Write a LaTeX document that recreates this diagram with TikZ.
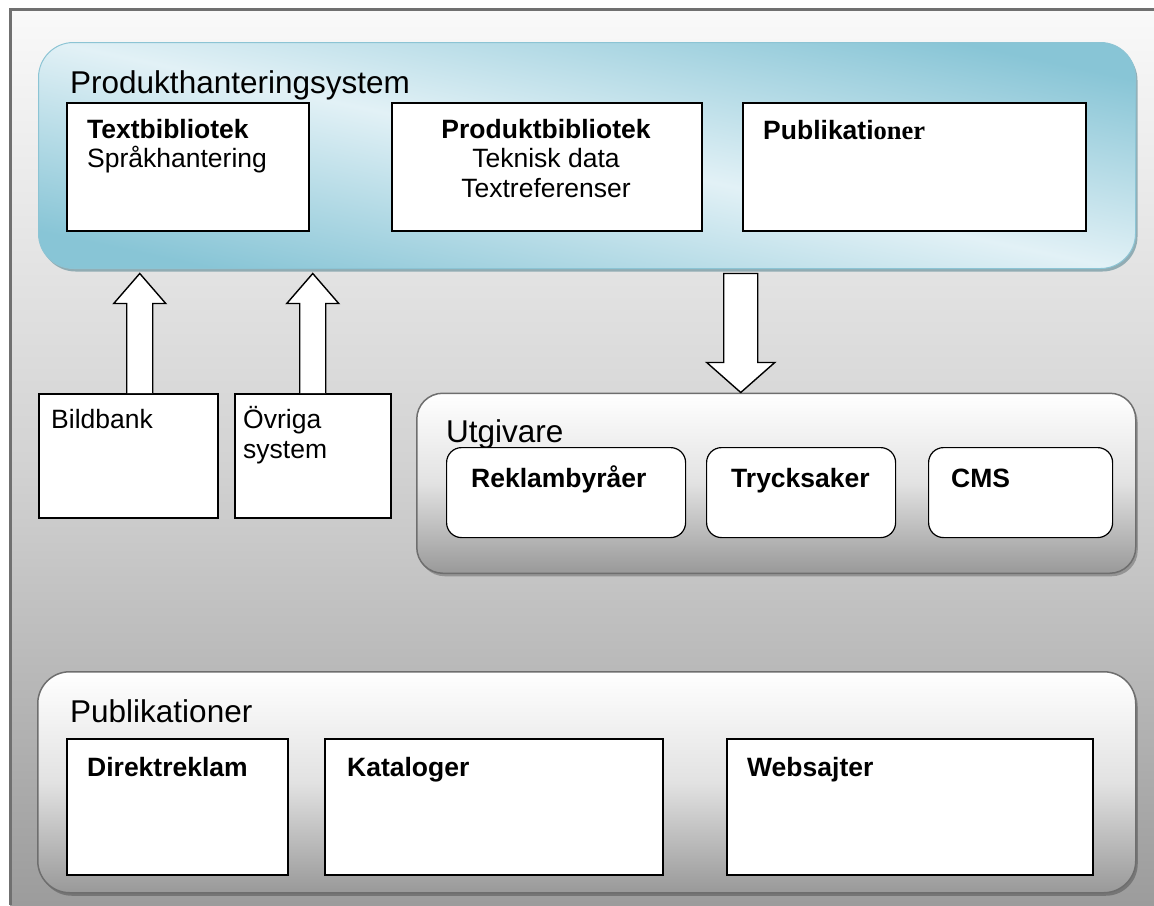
\documentclass[tikz,border=0pt]{standalone}
\usepackage{fontspec}
\setmainfont{Liberation Sans}
\newfontfamily\tnr{Liberation Serif}
\usetikzlibrary{calc,shadows}
\definecolor{bgtop}{HTML}{F9F9F9}
\definecolor{bgmid}{HTML}{D3D3D3}
\definecolor{bgbot}{HTML}{9C9C9C}
\definecolor{framecol}{HTML}{707070}
\definecolor{bluesat}{HTML}{88C5D6}
\definecolor{bluelight}{HTML}{E2F1F6}
\definecolor{blueedge}{HTML}{8CC4D4}
\definecolor{blueshadow}{HTML}{7D9FA8}
\definecolor{grymid}{HTML}{E2E2E2}
\definecolor{grybot}{HTML}{999999}
\definecolor{gryedge}{HTML}{6E6E6E}
\begin{document}
\begin{tikzpicture}[x=1pt,y=-1pt,
  titletxt/.style={font=\fontsize{31.5}{36}\selectfont, inner sep=0pt, anchor=base west},
  boxtxt/.style={font=\fontsize{26.5}{30}\selectfont, inner sep=0pt, anchor=base west},
  bluecont/.style={rectangle, anchor=north west, rounded corners=35pt, draw=blueedge, line width=1pt,
    top color=bluesat, bottom color=bluesat, middle color=bluelight, shading angle=-12,
    drop shadow={shadow xshift=2pt, shadow yshift=-3pt, fill=blueshadow, opacity=0.8}},
  grycont/.style={rectangle, anchor=north west, draw=gryedge, line width=1.5pt,
    top color=white, bottom color=grybot, middle color=grymid,
    drop shadow={shadow xshift=2pt, shadow yshift=-3pt, fill=black, opacity=0.25}},
  sqbox/.style={rectangle, anchor=north west, draw=black, fill=white, line width=1.5pt, inner sep=0pt},
  rbox/.style={sqbox, rounded corners=15pt, line width=1.2pt},
  blk/.style={draw=black, fill=white, line width=1.4pt, line join=miter}
]
\useasboundingbox (0,0) rectangle (1154,905);
\fill[white] (0,0) rectangle (1154,905);
% background
\shade[top color=bgtop, bottom color=bgbot, middle color=bgmid] (10,9) rectangle (1154,905);
\draw[framecol, line width=3pt] (10,905) -- (10,9) -- (1154,9);

% top container
\node[bluecont, minimum width=1097pt, minimum height=226pt] (pts) at (38,42) {};
\node[titletxt] (pts-t) at (70,93) {Produkthanteringsystem};

\node[sqbox, minimum width=242pt, minimum height=128pt] (tb) at (66,102) {};
\node[boxtxt] (tb-t1) at (87,138) {\bfseries Textbibliotek};
\node[boxtxt] (tb-t2) at (87,167) {Språkhantering};

\node[sqbox, minimum width=310pt, minimum height=128pt] (pb) at (391,102) {};
\node[boxtxt, anchor=base] (pb-t1) at (546,138) {\bfseries Produktbibliotek};
\node[boxtxt, anchor=base] (pb-t2) at (546,167) {Teknisk data};
\node[boxtxt, anchor=base] (pb-t3) at (546,197) {Textreferenser};

\node[sqbox, minimum width=343pt, minimum height=128pt] (pu) at (742,102) {};
\node[boxtxt] (pu-t) at (763,139) {\bfseries Publikati{\tnr oner}};

% source boxes
\node[sqbox, minimum width=179pt, minimum height=124pt] (bb) at (38,393) {};
\node[boxtxt] (bb-t) at (51,428) {Bildbank};
\node[sqbox, minimum width=156pt, minimum height=124pt] (ov) at (234,393) {};
\node[boxtxt] (ov-t1) at (243,428) {Övriga};
\node[boxtxt] (ov-t2) at (243,458) {system};

% Utgivare
\node[grycont, rounded corners=26pt, minimum width=719pt, minimum height=180pt] (ut) at (416,392.5) {};
\node[titletxt] (ut-t) at (446,442) {Utgivare};
\node[rbox, minimum width=239pt, minimum height=90pt] (rk) at (446,447) {};
\node[boxtxt] (rk-t) at (471,487) {\bfseries Reklambyråer};
\node[rbox, minimum width=189pt, minimum height=90pt] (tr) at (706,447) {};
\node[boxtxt] (tr-t) at (731,487) {\bfseries Trycksaker};
\node[rbox, minimum width=184pt, minimum height=90pt] (cms) at (928,447) {};
\node[boxtxt] (cms-t) at (951,487) {\bfseries CMS};

% Publikationer container
\node[grycont, rounded corners=32pt, minimum width=1098pt, minimum height=221pt] (pk) at (37,671) {};
\node[titletxt] (pk-t) at (70,722) {Publikationer};
\node[sqbox, minimum width=221pt, minimum height=136pt] (dr) at (66,738) {};
\node[boxtxt] (dr-t) at (87,776) {\bfseries Direktreklam};
\node[sqbox, minimum width=338pt, minimum height=136pt] (ka) at (324,738) {};
\node[boxtxt] (ka-t) at (347,776) {\bfseries Kataloger};
\node[sqbox, minimum width=366pt, minimum height=136pt] (ws) at (726,738) {};
\node[boxtxt] (ws-t) at (747,776) {\bfseries Websajter};

% arrows
\coordinate (a1s) at ($(bb.north)+(11.5,0)$);
\coordinate (a1t) at ($(a1s |- pts.south)+(0,4.5)$);
\coordinate (a2s) at (ov.north);
\coordinate (a2t) at ($(a2s |- pts.south)+(0,4.5)$);
\coordinate (a3t) at ($(ut.north)+(-35.5,0)$);
\coordinate (a3s) at ($(a3t |- pts.south)+(0,4.5)$);

\draw[blk] ($(a1s)+(-13,0)$) -- ($(a1t)+(-13,30)$) -- ($(a1t)+(-26,30)$) -- (a1t)
  -- ($(a1t)+(26,30)$) -- ($(a1t)+(13,30)$) -- ($(a1s)+(13,0)$);
\draw[blk] ($(a2s)+(-13,0)$) -- ($(a2t)+(-13,30)$) -- ($(a2t)+(-26,30)$) -- (a2t)
  -- ($(a2t)+(26,30)$) -- ($(a2t)+(13,30)$) -- ($(a2s)+(13,0)$);
\draw[blk] ($(a3s)+(-17,0)$) -- ($(a3t)+(-17,-30)$) -- ($(a3t)+(-34,-30)$) -- (a3t)
  -- ($(a3t)+(34,-30)$) -- ($(a3t)+(17,-30)$) -- ($(a3s)+(17,0)$) -- cycle;
\end{tikzpicture}
\end{document}
